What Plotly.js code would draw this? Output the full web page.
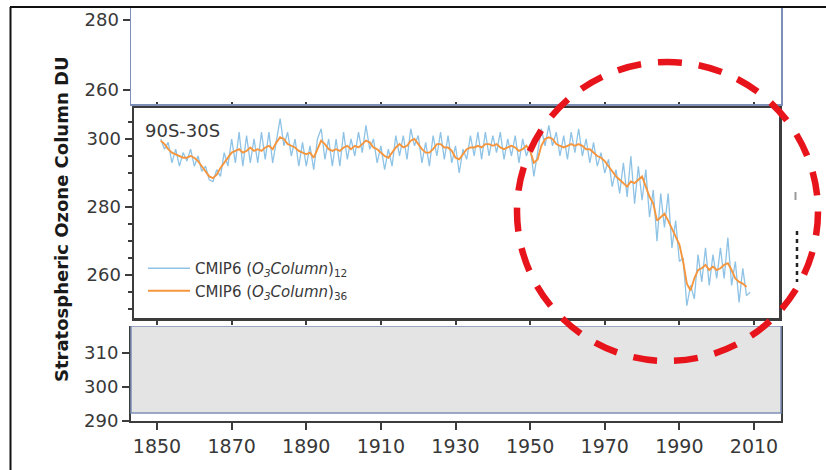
<!DOCTYPE html>
<html>
<head>
<meta charset="utf-8">
<script src="https://cdn.plot.ly/plotly-3.0.1.min.js"></script>
<style>
  html, body { margin: 0; padding: 0; background: #ffffff; }
  #chart { width: 826px; height: 470px; }
</style>
</head>
<body>
<div id="chart"></div>
<script>
// ---------- data ----------
const blueYears = [
  1851,1852,1853,1854,1855,1856,1857,1858,1859,1860,
  1861,1862,1863,1864,1865,1866,1867,1868,1869,1870,
  1871,1872,1873,1874,1875,1876,1877,1878,1879,1880,
  1881,1882,1883,1884,1885,1886,1887,1888,1889,1890,
  1891,1892,1893,1894,1895,1896,1897,1898,1899,1900,
  1901,1902,1903,1904,1905,1906,1907,1908,1909,1910,
  1911,1912,1913,1914,1915,1916,1917,1918,1919,1920,
  1921,1922,1923,1924,1925,1926,1927,1928,1929,1930,
  1931,1932,1933,1934,1935,1936,1937,1938,1939,1940,
  1941,1942,1943,1944,1945,1946,1947,1948,1949,1950,
  1951,1952,1953,1954,1955,1956,1957,1958,1959,1960,
  1961,1962,1963,1964,1965,1966,1967,1968,1969,1970,
  1971,1972,1973,1974,1975,1976,1977,1978,1979,1980,
  1981,1982,1983,1984,1985,1986,1987,1988,1989,1990,
  1991,1992,1993,1994,1995,1996,1997,1998,1999,2000,
  2001,2002,2003,2004,2005,2006,2007,2008,2009
];
const blueValues = [
  300, 297, 299, 293, 297, 292, 296, 293.5, 297, 292,
  295, 290.5, 292, 288, 287.5, 291, 289, 296, 292, 300,
  293, 302, 292, 301, 293, 300, 293, 302, 294, 302,
  293, 300, 306, 298, 302, 295, 300, 292, 299, 292,
  298, 291, 300, 303, 294, 300, 292, 300, 292, 302,
  294, 300, 295, 302, 296, 304, 297, 300, 293, 298,
  291, 297, 292, 301, 295, 301, 294, 303, 298, 301,
  293, 299, 292, 301, 295, 302, 294, 301, 293, 298,
  290, 297, 294, 301, 295, 302, 294, 302, 295, 301,
  296, 302, 294, 300, 295, 301, 293, 300, 295, 298,
  289, 296, 303, 298, 304, 298, 302, 295, 301, 294,
  302, 296, 303, 295, 300, 293, 299, 292, 296, 290,
  294, 286, 291, 284, 293, 283, 295, 281, 292, 282,
  291, 277, 285, 270, 284, 274, 284, 268, 276, 264,
  265, 251, 257, 253, 266, 258, 268, 257, 266, 259,
  268, 259, 271, 257, 264, 252, 262, 254, 255
];
const orangeYears = [
  1851,1852,1853,1854,1855,1856,1857,1858,1859,1860,
  1861,1862,1863,1864,1865,1866,1867,1868,1869,1870,
  1871,1872,1873,1874,1875,1876,1877,1878,1879,1880,
  1881,1882,1883,1884,1885,1886,1887,1888,1889,1890,
  1891,1892,1893,1894,1895,1896,1897,1898,1899,1900,
  1901,1902,1903,1904,1905,1906,1907,1908,1909,1910,
  1911,1912,1913,1914,1915,1916,1917,1918,1919,1920,
  1921,1922,1923,1924,1925,1926,1927,1928,1929,1930,
  1931,1932,1933,1934,1935,1936,1937,1938,1939,1940,
  1941,1942,1943,1944,1945,1946,1947,1948,1949,1950,
  1951,1952,1953,1954,1955,1956,1957,1958,1959,1960,
  1961,1962,1963,1964,1965,1966,1967,1968,1969,1970,
  1971,1972,1973,1974,1975,1976,1977,1978,1979,1980,
  1981,1982,1983,1984,1985,1986,1987,1988,1989,1990,
  1991,1992,1993,1994,1995,1996,1997,1998,1999,2000,
  2001,2002,2003,2004,2005,2006,2007,2008
];
const orangeValues = [
  299.5, 298.5, 297, 296, 295.5, 295, 294.5, 294.5, 295, 294.5,
  293.5, 292, 290.5, 289, 288.5, 289.5, 291.5, 293, 294.5, 296,
  296.5, 297, 296, 296.5, 297.5, 296.5, 297, 296.5, 297.5, 298,
  297, 299, 300.5, 300, 298.5, 298, 297.5, 296.5, 296, 295.5,
  296, 294.5, 297, 299.5, 298.5, 297, 296.5, 297, 296.5, 297.5,
  298, 297, 298, 297.5, 298.5, 299.5, 299, 297.5, 297, 296,
  295, 294.5, 296, 297.5, 298.5, 297.5, 298, 299.5, 300, 298.5,
  297, 296, 296, 297, 298.5, 298.5, 297.5, 297.5, 296.5, 294.5,
  294, 295.5, 297, 297.5, 297.5, 298, 297.5, 298.5, 298.5, 298,
  298.5, 297.5, 297, 297.5, 298, 297.5, 296.5, 297, 298, 296.5,
  293, 294, 298, 300, 300.5, 300, 298.5, 298, 297.5, 298,
  298.5, 298, 298.5, 298, 297, 297, 296, 295, 294.5, 293.5,
  292, 290.5, 289, 288, 287, 286, 287.5, 287, 288, 289,
  286, 283, 281, 276, 277, 278, 276, 273.5, 271, 269,
  264, 257.5, 255.5, 259, 261.5, 262, 263, 261.5, 262.5, 261.5,
  262, 263, 263.5, 261.5, 259, 258, 257.5, 256.5
];
const seriesNames = [
  'CMIP6 (<i>O<sub>3</sub>Column</i>)<sub>12</sub>',
  'CMIP6 (<i>O<sub>3</sub>Column</i>)<sub>36</sub>'
];
const xTickVals = [1850, 1870, 1890, 1910, 1930, 1950, 1970, 1990, 2010];
const bottomYTicks = [290, 300, 310];
const middleYTicks = [260, 280, 300];
const topYTicks = [260, 280];
const regionLabel = '90S-30S';
const yTitle = 'Stratospheric Ozone Column DU';

// ---------- layout helpers (pixel -> paper) ----------
const L = 131, W = 650, T = 8, B = 421, H = B - T;
const px = x => (x - L) / W;
const py = y => (B - y) / H;

const FONT = 'DejaVu Sans, sans-serif';
const TXT = '#383838';
const BLUEGRAY = '#7d8fb6';
const DARK = '#3c3c3c';
const TICKSIZE = 18;

const traces = [
  { x: blueYears, y: blueValues, name: seriesNames[0], type: 'scatter', mode: 'lines',
    xaxis: 'x2', yaxis: 'y2', line: { color: '#8fc3e6', width: 1.3 }, hoverinfo: 'skip' },
  { x: orangeYears, y: orangeValues, name: seriesNames[1], type: 'scatter', mode: 'lines',
    xaxis: 'x2', yaxis: 'y2', line: { color: '#f5963e', width: 1.9 }, hoverinfo: 'skip' },
  { x: [], y: [], xaxis: 'x', yaxis: 'y', showlegend: false, hoverinfo: 'skip', type: 'scatter' },
  { x: [], y: [], xaxis: 'x3', yaxis: 'y3', showlegend: false, hoverinfo: 'skip', type: 'scatter' }
];

const xFull = [1843.03, 2017.24];
const xMid = [1843.83, 2016.70];

const layout = {
  width: 826, height: 470,
  margin: { l: L, r: 826 - (L + W), t: T, b: 470 - B, pad: 0 },
  paper_bgcolor: '#ffffff', plot_bgcolor: 'rgba(0,0,0,0)',
  font: { family: FONT, size: TICKSIZE, color: TXT },
  showlegend: true,
  legend: {
    x: px(143), y: py(252), xanchor: 'left', yanchor: 'top',
    bgcolor: 'rgba(0,0,0,0)', borderwidth: 0, itemwidth: 42,
    font: { family: FONT, size: 15, color: TXT }
  },
  // bottom panel
  xaxis: {
    domain: [0, 1], range: xFull, anchor: 'y',
    showline: true, linecolor: DARK, linewidth: 2, mirror: false,
    ticks: 'outside', ticklen: 7, tickwidth: 2, tickcolor: DARK,
    tickmode: 'array', tickvals: xTickVals, ticktext: xTickVals.map(String),
    showgrid: false, zeroline: false, tickfont: { size: TICKSIZE + 1, color: TXT }
  },
  yaxis: {
    domain: [0, py(326)], range: [290, 317.9], anchor: 'x',
    showline: true, linecolor: DARK, linewidth: 2, mirror: true,
    ticks: 'outside', ticklen: 7, tickwidth: 2, tickcolor: DARK,
    tickmode: 'array', tickvals: bottomYTicks,
    showgrid: false, zeroline: false, tickfont: { size: TICKSIZE, color: TXT }
  },
  // middle panel
  xaxis2: {
    domain: [px(134), px(779)], range: xMid, anchor: 'y2',
    showline: true, linecolor: DARK, linewidth: 2.5, mirror: 'ticks',
    ticks: 'outside', ticklen: 4, tickwidth: 2, tickcolor: DARK,
    tickmode: 'array', tickvals: xTickVals, showticklabels: false,
    showgrid: false, zeroline: false
  },
  yaxis2: {
    domain: [py(318), py(108)], range: [247.4, 309.1], anchor: 'x2',
    showline: true, linecolor: DARK, linewidth: 2.5, mirror: true,
    ticks: 'outside', ticklen: 7, tickwidth: 2, tickcolor: DARK,
    tickmode: 'array', tickvals: middleYTicks,
    minor: { dtick: 5, ticks: 'outside', ticklen: 4, tickwidth: 1.5, tickcolor: DARK, showgrid: false },
    showgrid: false, zeroline: false, tickfont: { size: TICKSIZE, color: TXT }
  },
  // top panel
  xaxis3: {
    domain: [0, 1], range: xFull, anchor: 'y3',
    showline: true, linecolor: BLUEGRAY, linewidth: 2, mirror: false,
    ticks: '', showticklabels: false, showgrid: false, zeroline: false
  },
  yaxis3: {
    domain: [py(104), 1], range: [256, 283.43], anchor: 'x3',
    showline: true, linecolor: BLUEGRAY, linewidth: 1.5, mirror: true,
    ticks: 'outside', ticklen: 7, tickwidth: 2, tickcolor: DARK,
    tickmode: 'array', tickvals: topYTicks,
    showgrid: false, zeroline: false, tickfont: { size: TICKSIZE, color: TXT }
  },
  shapes: [
    // grey inset box in bottom panel
    { type: 'rect', xref: 'paper', yref: 'y', x0: 0, x1: 1, y0: 292.35, y1: 317.9,
      fillcolor: '#e4e4e4', line: { color: BLUEGRAY, width: 1.5 }, layer: 'above' },
    // outer frame of the screenshot
    { type: 'line', xref: 'paper', yref: 'paper', x0: px(10), x1: px(830), y0: py(7), y1: py(7),
      line: { color: '#111111', width: 2 } },
    { type: 'line', xref: 'paper', yref: 'paper', x0: px(10.5), x1: px(10.5), y0: py(7), y1: py(472),
      line: { color: '#111111', width: 2 } },
    // leftover marks on the right
    { type: 'line', xref: 'paper', yref: 'paper', x0: px(795.5), x1: px(795.5), y0: py(192), y1: py(200),
      line: { color: '#9a9a9a', width: 2 } },
    { type: 'line', xref: 'paper', yref: 'paper', x0: px(797), x1: px(797), y0: py(231), y1: py(282),
      line: { color: '#222222', width: 2.5, dash: '4px,4px' } },
    // red dashed highlight circle
    { type: 'circle', xref: 'paper', yref: 'paper', x0: px(517), x1: px(818), y0: py(361), y1: py(62),
      line: { color: '#e8141b', width: 6.5, dash: '24px,17px' }, fillcolor: 'rgba(0,0,0,0)', layer: 'above' }
  ],
  annotations: [
    { text: regionLabel, xref: 'paper', yref: 'paper', x: px(143), y: py(130),
      xanchor: 'left', yanchor: 'middle', showarrow: false,
      font: { family: FONT, size: 18, color: TXT } },
    { text: '<b>' + yTitle + '</b>', xref: 'paper', yref: 'paper', x: px(61), y: py(219),
      xanchor: 'center', yanchor: 'middle', textangle: -90, showarrow: false,
      font: { family: FONT, size: 18, color: '#1a1a1a' } }
  ]
};

Plotly.newPlot('chart', traces, layout, { displayModeBar: false, staticPlot: true });
</script>
</body>
</html>
